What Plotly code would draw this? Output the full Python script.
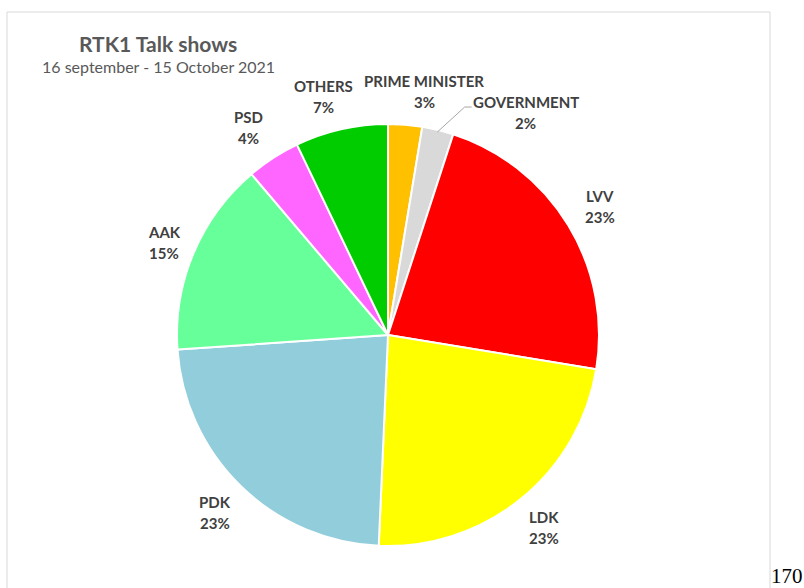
import math
import plotly.graph_objects as go

# ---- data ----
categories = ["PRIME MINISTER", "GOVERNMENT", "LVV", "LDK", "PDK", "AAK", "PSD", "OTHERS"]
values = [2.6, 2.4, 22.6, 23.1, 23.2, 14.9, 4.1, 7.1]
colors = ["#FFC000", "#D9D9D9", "#FF0000", "#FFFF00", "#92CDDC", "#66FF99", "#FF66FF", "#00CC00"]
title_text = "RTK1 Talk shows"
subtitle_text = "16 september - 15 October 2021"

# ---- layout geometry (pixels) ----
W, H = 804, 588
CX, CY, R = 388, 335, 211          # pie center (from top-left) and radius
LABEL_R = 248                      # label distance from center
nudges = {"PRIME MINISTER": (16, 4), "GOVERNMENT": (79, 18),
          "OTHERS": (-10, 3), "PSD": (-5, 1), "AAK": (5, 4)}  # label offsets (px)

fig = go.Figure(go.Pie(
    labels=categories, values=values, sort=False, direction="clockwise",
    rotation=0, textinfo="none", hoverinfo="label+percent",
    marker=dict(colors=colors, line=dict(color="white", width=2)),
    domain=dict(x=[(CX - R) / W, (CX + R) / W],
                y=[(H - CY - R) / H, (H - CY + R) / H]),
    showlegend=False,
))

def px2paper(x, y):
    return x / W, (H - y) / H

FONT = "Lato, Open Sans, sans-serif"
total = sum(values)
cum = 0.0
annotations = []
shapes = []
label_color = "#404040"
for name, v in zip(categories, values):
    mid = (cum + v / 2) / total * 2 * math.pi
    cum += v
    lx = CX + LABEL_R * math.sin(mid)
    ly = CY - LABEL_R * math.cos(mid)
    dx, dy = nudges.get(name, (0, 0))
    lx += dx
    ly += dy
    pct = f"{round(v / total * 100)}%"
    for txt, off in ((name, -10.5), (pct, 10.5)):
        px, py = px2paper(lx, ly + off)
        annotations.append(dict(
            x=px, y=py, xref="paper", yref="paper", text=f"<b>{txt}</b>",
            showarrow=False, xanchor="center", yanchor="middle",
            font=dict(family=FONT, size=15, color=label_color)))
    if name == "GOVERNMENT":
        # leader line from slice edge to moved label
        sx, sy = CX + (R - 2) * math.sin(mid), CY - (R - 2) * math.cos(mid)
        kx, ky = lx - 61, ly - 5
        ex, ey = kx + 7, ky
        p = [px2paper(sx, sy), px2paper(kx, ky), px2paper(ex, ey)]
        shapes.append(dict(
            type="path", xref="paper", yref="paper",
            path=f"M {p[0][0]},{p[0][1]} L {p[1][0]},{p[1][1]} L {p[2][0]},{p[2][1]}",
            line=dict(color="#A6A6A6", width=1)))

# title and subtitle
tx, ty = px2paper(158, 43)
annotations.append(dict(x=tx, y=ty, xref="paper", yref="paper",
                        text=f"<b>{title_text}</b>", showarrow=False,
                        xanchor="center", yanchor="middle",
                        font=dict(family=FONT, size=21, color="#595959")))
sx_, sy_ = px2paper(158, 66)
annotations.append(dict(x=sx_, y=sy_, xref="paper", yref="paper",
                        text=subtitle_text, showarrow=False,
                        xanchor="center", yanchor="middle",
                        font=dict(family=FONT, size=16, color="#595959")))
# page number outside frame
nx, ny = px2paper(787, 576)
annotations.append(dict(x=nx, y=ny, xref="paper", yref="paper", text="170",
                        showarrow=False, xanchor="center", yanchor="middle",
                        font=dict(family="Liberation Serif, serif", size=21, color="black")))

# chart frame
fx0, fy0 = px2paper(7, 12)
fx1, fy1 = px2paper(770, 600)
shapes.append(dict(type="rect", xref="paper", yref="paper",
                   x0=fx0, y0=fy1, x1=fx1, y1=fy0,
                   line=dict(color="#D9D9D9", width=1)))

fig.update_layout(
    width=W, height=H, margin=dict(l=0, r=0, t=0, b=0),
    paper_bgcolor="white", plot_bgcolor="white",
    annotations=annotations, shapes=shapes,
)
fig.write_html("out.html", config={"displayModeBar": False},
               post_script="document.body.style.margin='0px';document.body.style.overflow='hidden';")
